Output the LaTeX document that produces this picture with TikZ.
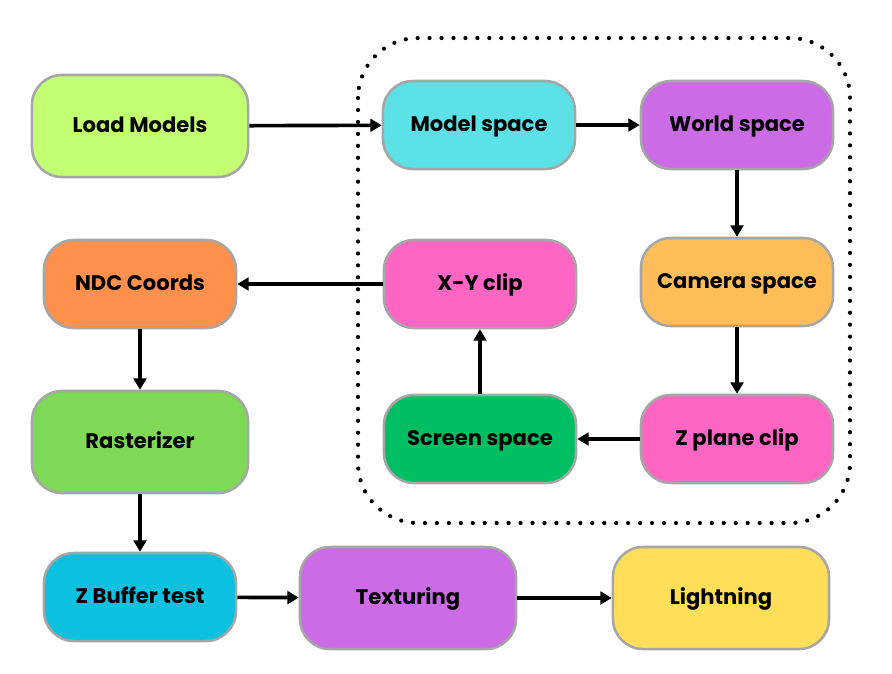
\documentclass[tikz,border=0pt]{standalone}
\usepackage{fontspec}
\setmainfont{Poppins}
\usepackage{tikz}
\usetikzlibrary{arrows.meta}
\usepackage{xcolor}

\definecolor{limeg}{HTML}{C2FF72}
\definecolor{cyanl}{HTML}{5CE1E6}
\definecolor{violet}{HTML}{CB6CE6}
\definecolor{orangel}{HTML}{FFBD59}
\definecolor{pinkh}{HTML}{FF66C4}
\definecolor{greens}{HTML}{00BF63}
\definecolor{oranged}{HTML}{FF914D}
\definecolor{greenl}{HTML}{7ED957}
\definecolor{cyand}{HTML}{0CC0DF}
\definecolor{yellowl}{HTML}{FFDE59}
\definecolor{rim}{HTML}{A6A6A6}

\begin{document}
\begin{tikzpicture}[x=0.025cm,y=-0.025cm]

\tikzset{stage/.style = {shape=rectangle,draw=rim,line width=1.8pt,rounded corners=0.75cm,
  minimum width=4.8cm,minimum height=2.2cm,text height=0.98em,text depth=0em,
  font=\fontsize{15}{18}\selectfont\bfseries}}
\tikzset{bigstage/.style = {stage,minimum width=5.4cm,minimum height=2.55cm}}
\tikzset{flow/.style = {-{Triangle[length=8pt,width=9pt]},line width=2.6pt}}
\useasboundingbox (0,0) rectangle (892,673);
%pipeline box
\draw[line width=3pt,line cap=round,dash pattern=on 0pt off 8.5pt,rounded corners=1.5cm]
  (358,38) rectangle (850,523);
\node[bigstage,fill=limeg] (load) at (140,126) {Load Models};
\node[stage,fill=cyanl] (model) at (479,125) {Model space};
\node[stage,fill=violet] (world) at (737,125) {World space};
\node[stage,fill=orangel] (camera) at (737,282) {Camera space};
\node[stage,fill=pinkh] (zclip) at (737,439) {Z plane clip};
\node[stage,fill=greens] (screen) at (480,439) {Screen space};
\node[stage,fill=pinkh] (xyclip) at (480,284) {X-Y clip};
\node[stage,fill=oranged] (ndc) at (140,284) {NDC Coords};
\node[bigstage,fill=greenl] (raster) at (140,442) {Rasterizer};
\node[stage,fill=cyand] (zbuf) at (140,597) {Z Buffer test};
\node[bigstage,fill=violet] (tex) at (408,598) {Texturing};
\node[bigstage,fill=yellowl] (light) at (721,598) {Lightning};
%edges
\draw[flow] (load) to (model);
\draw[flow] (model) to (world);
\draw[flow] (world) to (camera);
\draw[flow] (camera) to (zclip);
\draw[flow] (zclip) to (screen);
\draw[flow] (screen) to (xyclip);
\draw[flow] (xyclip) to (ndc);
\draw[flow] (ndc) to (raster);
\draw[flow] (raster) to (zbuf);
\draw[flow] (zbuf) to (tex);
\draw[flow] (tex) to (light);
\end{tikzpicture}
\end{document}
